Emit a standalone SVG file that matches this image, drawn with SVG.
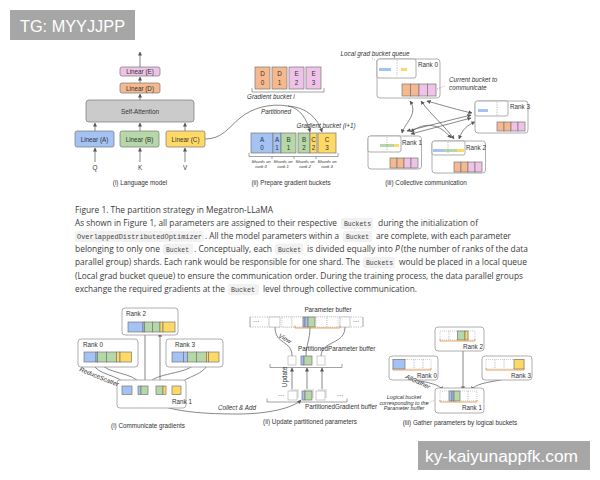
<svg xmlns="http://www.w3.org/2000/svg" width="600" height="480" viewBox="0 0 600 480">
<style>
.t{font-family:"Liberation Sans",Arial,sans-serif;fill:#333;font-size:6.3px}
.c{text-anchor:middle}
.i{font-style:italic}
.p{font-family:"Open Sans","Noto Sans",sans-serif;fill:#3a3a3a;font-size:8.3px}
.m{font-family:"Liberation Mono","DejaVu Sans Mono",monospace;fill:#444;font-size:6.6px}
.cb{fill:#f1f1f1;stroke:none}
.bx{stroke:#777;stroke-width:0.7}
.fr{fill:#fff;stroke:#999;stroke-width:0.8}
.q{fill:#fff;stroke:#aaa;stroke-width:0.6}
.bl{fill:#a4c2f4}.gr{fill:#b6d7a8}.ye{fill:#ffd966}.or{fill:#f6b88e}.pk{fill:#efc3e8}.gy{fill:#cbcbcb}.wh{fill:#fff}
.ln{fill:none;stroke:#555;stroke-width:0.7}
.ar{fill:none;stroke:#555;stroke-width:0.7;marker-end:url(#ah)}
.ar2{fill:none;stroke:#555;stroke-width:0.7;marker-end:url(#ah);marker-start:url(#ah)}
.dl{fill:none;stroke:#777;stroke-width:0.5;stroke-dasharray:1.2 1.2}
.br{fill:none;stroke:#666;stroke-width:0.6}
.ob{fill:none;stroke:#e69138;stroke-width:0.8}
.wm{fill:#a6a6a6}
.wt{font-family:"Liberation Sans",Arial,sans-serif;fill:#fff;font-size:16px}
</style>
<defs>
<marker id="ah" viewBox="0 0 10 10" refX="9" refY="5" markerWidth="4" markerHeight="4" markerUnits="userSpaceOnUse" orient="auto-start-reverse"><path d="M0,0 L10,5 L0,10 z" fill="#555"/></marker>
</defs>
<rect width="600" height="480" fill="#fff"/>

<!-- watermarks -->
<g id="wm-top"><rect class="wm" x="10" y="10" width="125" height="30"/><text class="wt" x="20" y="31.5" textLength="105" lengthAdjust="spacingAndGlyphs">TG: MYYJJPP</text></g>
<g id="wm-bottom"><rect class="wm" x="418" y="441" width="172" height="29"/><text class="wt" x="425" y="461.5" textLength="153" lengthAdjust="spacingAndGlyphs">ky-kaiyunappfk.com</text></g>

<!-- connectors -->
<g id="connectors">
 <!-- panel i top -->
 <path class="ar" d="M95,162 V148"/>
 <path class="ar" d="M140,162 V148"/>
 <path class="ar" d="M185,162 V148"/>
 <path class="ar" d="M95,131 V123"/>
 <path class="ar" d="M140,131 V123"/>
 <path class="ar" d="M185,131 V123"/>
 <path class="ar" d="M140,100 V94"/>
 <path class="ar" d="M140,83 V77"/>
 <path class="ar" d="M140,67 V52"/>
 <path class="ln" d="M205,139 C222,139 228,128 240,118 C252,108 270,103 288,106"/>
 <path class="ar" d="M288,106 C300,108 307,119 310,132"/>
 <path class="ar" d="M288,106 C306,107 318,118 322,132"/>
 <!-- panel iii top -->
 <path class="ar2" d="M410,101 C419,114 404,124 402,133"/>
 <path class="ar2" d="M421,101 C432,116 445,126 454,139"/>
 <path class="ar2" d="M427,101 C445,106 458,110 472,113"/>
 <path class="ar2" d="M407,131 L471,115"/>
 <path class="ar2" d="M411,134 L471,118"/>
 <path class="ar2" d="M411,132 C425,121 440,124 451,138"/>
 <path class="ar2" d="M459,139 C462,130 467,125 475,122"/>
 <!-- bottom panel i -->
 <path class="ar" d="M100,362 C106,375 134,371 141,385"/>
 <path class="ar" d="M92,362 C96,376 120,374 127,386"/>
 <path class="ar" d="M196,362 C190,375 152,372 148,385"/>
 <path class="ar" d="M208,362 C206,375 186,376 178,385"/>
 <path class="ar" d="M145,332 V385"/>
 <path class="ar" d="M160,385 V333"/>
 <path class="ar" d="M143,395 C158,411 198,414 238,414 C268,414 293,408 301,400"/>
 <!-- bottom panel ii -->
 <path class="ln" d="M275,327 C275,345 292,340 292,356"/>
 <path class="ln" d="M310,327 C310,340 306,345 306,356"/>
 <path class="ln" d="M345,327 C345,345 322,340 321,356"/>
 <path class="ar" d="M292,390 V368"/>
 <path class="ar" d="M307,390 V368"/>
 <path class="ar" d="M322,390 V368"/>
 <!-- bottom panel iii -->
 <path class="ar" d="M399,369 C400,384 434,378 443,390"/>
 <path class="ar" d="M463,340 V390"/>
 <path class="ar" d="M518,369 C516,384 480,378 471,390"/>
 <path class="dl" d="M426,404 L440,398"/>
</g>

<!-- panel (i) language model -->
<g id="lin-e"><rect class="bx pk" x="120" y="67" width="40" height="9" rx="2"/><text class="t c" x="140" y="74">Linear (E)</text></g>
<g id="lin-d"><rect class="bx or" x="120" y="83" width="40" height="10" rx="2"/><text class="t c" x="140" y="90.5">Linear (D)</text></g>
<g id="self-attn"><rect class="bx gy" x="86" y="100" width="108" height="22" rx="3"/><text class="t c" x="140" y="113.5">Self-Attention</text></g>
<g id="lin-a"><rect class="bx bl" x="75" y="131" width="39" height="16" rx="2"/><text class="t c" x="94.5" y="141.5">Linear (A)</text></g>
<g id="lin-b"><rect class="bx gr" x="120" y="131" width="39" height="16" rx="2"/><text class="t c" x="139.5" y="141.5">Linear (B)</text></g>
<g id="lin-c"><rect class="bx ye" x="166" y="131" width="39" height="16" rx="2"/><text class="t c" x="185.5" y="141.5">Linear (C)</text></g>
<g id="qkv"><text class="t c" x="95" y="170">Q</text><text class="t c" x="140" y="170">K</text><text class="t c" x="185" y="170">V</text></g>
<text class="t c" x="140" y="185">(i) Language model</text>

<!-- panel (ii) prepare buckets -->
<g id="bucket-i">
 <rect class="bx or" x="255" y="67" width="15" height="22"/><text class="t c" x="262.5" y="76">D</text><text class="t c" x="262.5" y="85">0</text>
 <rect class="bx or" x="272" y="67" width="15" height="22"/><text class="t c" x="279.5" y="76">D</text><text class="t c" x="279.5" y="85">1</text>
 <rect class="bx pk" x="289" y="67" width="15" height="22"/><text class="t c" x="296.5" y="76">E</text><text class="t c" x="296.5" y="85">2</text>
 <rect class="bx pk" x="306" y="67" width="15" height="22"/><text class="t c" x="313.5" y="76">E</text><text class="t c" x="313.5" y="85">3</text>
 <path class="br" d="M252,88 V92 H324 V88"/>
 <text class="t i" x="247" y="98.5">Gradient bucket i</text>
</g>
<text class="t i c" x="276" y="114">Partitioned</text>
<g id="bucket-i1">
 <text class="t i c" x="326" y="128">Gradient bucket (i+1)</text>
 <rect class="bx bl" x="251" y="133" width="22" height="20"/><text class="t c" x="262" y="142">A</text><text class="t c" x="262" y="150">0</text>
 <rect class="bx bl" x="273" y="133" width="8" height="20"/><text class="t c" x="277" y="142">A</text><text class="t c" x="277" y="150">1</text>
 <rect class="bx gr" x="281" y="133" width="15" height="20"/><text class="t c" x="288.5" y="142">B</text><text class="t c" x="288.5" y="150">1</text>
 <rect class="bx gr" x="298" y="133" width="12" height="20"/><text class="t c" x="304" y="142">B</text><text class="t c" x="304" y="150">2</text>
 <rect class="bx ye" x="310" y="133" width="7" height="20"/><text class="t c" x="313.5" y="142">C</text><text class="t c" x="313.5" y="150">2</text>
 <rect class="bx ye" x="318" y="133" width="18" height="20"/><text class="t c" x="327" y="142">C</text><text class="t c" x="327" y="150">3</text>
 <path class="br" d="M249,153 V156.5 H338 V153 M272,156.5 V159 M294,156.5 V159 M316,156.5 V159"/>
 <g class="t i c" style="font-size:4.2px">
  <text x="261" y="162.5">Shards on</text><text x="261" y="167.5">rank 0</text>
  <text x="283" y="162.5">Shards on</text><text x="283" y="167.5">rank 1</text>
  <text x="305" y="162.5">Shards on</text><text x="305" y="167.5">rank 2</text>
  <text x="327" y="162.5">Shards on</text><text x="327" y="167.5">rank 3</text>
 </g>
</g>
<text class="t c" x="291" y="185">(ii) Prepare gradient buckets</text>

<!-- panel (iii) collective communication -->
<text class="t i c" x="375" y="56">Local grad bucket queue</text>
<path class="dl" d="M372,58 L378,62"/>
<g id="rank0-top">
 <rect class="fr" x="377" y="59" width="63" height="39" rx="3"/>
 <rect class="fr" x="377" y="59" width="39" height="19" rx="2"/>
 <rect class="bl" x="379" y="68" width="12" height="3"/><rect class="ye" x="401" y="68" width="6" height="3"/>
 <path class="dl" d="M397,60 V76"/>
 <text class="t" x="418" y="67">Rank 0</text>
 <rect class="bx or" x="402" y="84" width="8.5" height="12"/><rect class="bx or" x="410.5" y="84" width="8.5" height="12"/><rect class="bx pk" x="419" y="84" width="8.5" height="12"/><rect class="bx pk" x="427.5" y="84" width="8.5" height="12"/>
</g>
<text class="t i" x="449" y="82">Current bucket to</text>
<text class="t i" x="449" y="90">communicate</text>
<path class="dl" d="M437,89 L445,86"/>
<g id="rank3-top">
 <rect class="fr" x="475" y="101" width="53" height="32" rx="3"/>
 <rect class="fr" x="475" y="101" width="33" height="15" rx="2"/>
 <rect class="bl" x="478" y="109" width="10" height="3"/>
 <path class="dl" d="M497,102 V115"/>
 <text class="t" x="510" y="109">Rank 3</text>
 <rect class="bx or" x="497" y="122" width="7" height="9"/><rect class="bx or" x="504" y="122" width="7" height="9"/><rect class="bx pk" x="511" y="122" width="7" height="9"/><rect class="bx pk" x="518" y="122" width="7" height="9"/>
</g>
<g id="rank1-top">
 <rect class="fr" x="368" y="136" width="53.5" height="33" rx="3"/>
 <rect class="fr" x="368" y="136" width="33" height="16" rx="2"/>
 <rect class="gr" x="380" y="144" width="14" height="3"/><rect class="ye" x="394" y="144" width="5" height="3"/>
 <path class="dl" d="M387,137 V151"/>
 <text class="t" x="402" y="144.5">Rank 1</text>
 <rect class="bx or" x="390" y="158" width="7" height="10"/><rect class="bx or" x="397" y="158" width="7" height="10"/><rect class="bx pk" x="404" y="158" width="7" height="10"/><rect class="bx pk" x="411" y="158" width="7" height="10"/>
</g>
<g id="rank2-top">
 <rect class="fr" x="432" y="141" width="53.5" height="32" rx="3"/>
 <rect class="fr" x="432" y="141" width="33" height="14" rx="2"/>
 <rect class="bl" x="433" y="149" width="11" height="3"/><rect class="gr" x="444" y="149" width="13" height="3"/><rect class="ye" x="457" y="149" width="7" height="3"/>
 <path class="dl" d="M448,142 V154"/>
 <text class="t" x="466" y="150">Rank 2</text>
 <rect class="bx or" x="454" y="162" width="7" height="10"/><rect class="bx or" x="461" y="162" width="7" height="10"/><rect class="bx pk" x="468" y="162" width="7" height="10"/><rect class="bx pk" x="475" y="162" width="7" height="10"/>
</g>
<text class="t c" x="426" y="185">(iii) Collective communication</text>

<!-- paragraph -->
<g id="paragraph">
 <text class="p" x="75" y="212.5" textLength="198" lengthAdjust="spacingAndGlyphs">Figure 1. The partition strategy in Megatron-LLaMA</text>

 <text class="p" x="75" y="226" textLength="262" lengthAdjust="spacingAndGlyphs">As shown in Figure 1, all parameters are assigned to their respective</text>
 <rect class="cb" x="341" y="218" width="32" height="11" rx="2"/><text class="m" x="344" y="226" textLength="27" lengthAdjust="spacingAndGlyphs">Buckets</text>
 <text class="p" x="378" y="226" textLength="100" lengthAdjust="spacingAndGlyphs">during the initialization of</text>

 <rect class="cb" x="75" y="231" width="129" height="11" rx="2"/><text class="m" x="77" y="239" textLength="125" lengthAdjust="spacingAndGlyphs">OverlappedDistributedOptimizer</text>
 <text class="p" x="205" y="239" textLength="134" lengthAdjust="spacingAndGlyphs">. All the model parameters within a</text>
 <rect class="cb" x="343" y="231" width="29" height="11" rx="2"/><text class="m" x="346" y="239" textLength="23" lengthAdjust="spacingAndGlyphs">Bucket</text>
 <text class="p" x="376" y="239" textLength="135" lengthAdjust="spacingAndGlyphs">are complete, with each parameter</text>

 <text class="p" x="75" y="251.5" textLength="85" lengthAdjust="spacingAndGlyphs">belonging to only one</text>
 <rect class="cb" x="163" y="243.5" width="30" height="11" rx="2"/><text class="m" x="166" y="251.5" textLength="23" lengthAdjust="spacingAndGlyphs">Bucket</text>
 <text class="p" x="194" y="251.5" textLength="78" lengthAdjust="spacingAndGlyphs">. Conceptually, each</text>
 <rect class="cb" x="275" y="243.5" width="28" height="11" rx="2"/><text class="m" x="278" y="251.5" textLength="23" lengthAdjust="spacingAndGlyphs">Bucket</text>
 <text class="p" x="307" y="251.5" textLength="86" lengthAdjust="spacingAndGlyphs">is divided equally into</text>
 <text class="p" x="395" y="251.5" font-style="italic">P</text>
 <text class="p" x="401" y="251.5" textLength="127" lengthAdjust="spacingAndGlyphs">(the number of ranks of the data</text>

 <text class="p" x="75" y="265" textLength="285" lengthAdjust="spacingAndGlyphs">parallel group) shards. Each rank would be responsible for one shard. The</text>
 <rect class="cb" x="363" y="257" width="32" height="11" rx="2"/><text class="m" x="366" y="265" textLength="27" lengthAdjust="spacingAndGlyphs">Buckets</text>
 <text class="p" x="399" y="265" textLength="128" lengthAdjust="spacingAndGlyphs">would be placed in a local queue</text>

 <text class="p" x="75" y="278.5" textLength="448" lengthAdjust="spacingAndGlyphs">(Local grad bucket queue) to ensure the communication order. During the training process, the data parallel groups</text>

 <text class="p" x="75" y="292" textLength="150" lengthAdjust="spacingAndGlyphs">exchange the required gradients at the</text>
 <rect class="cb" x="228" y="284" width="31" height="11" rx="2"/><text class="m" x="231" y="292" textLength="24" lengthAdjust="spacingAndGlyphs">Bucket</text>
 <text class="p" x="263" y="292" textLength="154" lengthAdjust="spacingAndGlyphs">level through collective communication.</text>
</g>

<!-- bottom panel (i) communicate gradients -->
<g id="b-rank2">
 <rect class="fr" x="122" y="308" width="56" height="27" rx="3"/>
 <text class="t" x="126" y="316">Rank 2</text>
 <rect class="bx bl" x="128" y="322" width="15" height="10"/><rect class="bx bl" x="143" y="322" width="1.5" height="10"/><rect class="bx gr" x="144.5" y="322" width="8" height="10"/><rect class="bx gr" x="152.5" y="322" width="7.5" height="10"/><rect class="bx ye" x="160" y="322" width="3" height="10"/><rect class="bx ye" x="163" y="322" width="12" height="10"/>
</g>
<g id="b-rank0">
 <rect class="fr" x="78" y="339" width="60" height="28" rx="3"/>
 <text class="t" x="83" y="347">Rank 0</text>
 <rect class="bx bl" x="84" y="352" width="12" height="10"/><rect class="bx bl" x="96" y="352" width="1.5" height="10"/><rect class="bx gr" x="97.5" y="352" width="9" height="10"/><rect class="bx gr" x="106.5" y="352" width="10" height="10"/><rect class="bx ye" x="116.5" y="352" width="3.5" height="10"/><rect class="bx ye" x="120" y="352" width="11.5" height="10"/>
</g>
<g id="b-rank3">
 <rect class="fr" x="166" y="339" width="57" height="28" rx="3"/>
 <text class="t" x="175" y="347">Rank 3</text>
 <rect class="bx bl" x="172" y="352" width="11.5" height="10"/><rect class="bx bl" x="183.5" y="352" width="4" height="10"/><rect class="bx gr" x="187.5" y="352" width="9" height="10"/><rect class="bx gr" x="196.5" y="352" width="10" height="10"/><rect class="bx ye" x="206.5" y="352" width="2" height="10"/><rect class="bx ye" x="208.5" y="352" width="10.5" height="10"/>
</g>
<g id="b-rank1">
 <rect class="fr" x="117" y="380" width="69" height="28" rx="3"/>
 <text class="t" x="172" y="404">Rank 1</text>
 <rect class="bx bl" x="122" y="386" width="10" height="8.5"/>
 <rect class="bx bl" x="138" y="386" width="3" height="8.5"/><rect class="bx gr" x="141" y="386" width="7" height="8.5"/>
 <rect class="bx gr" x="156" y="386" width="7" height="8.5"/><rect class="bx ye" x="163" y="386" width="3" height="8.5"/>
 <rect class="bx ye" x="172" y="386" width="9" height="8.5"/>
</g>
<text class="t i" x="79" y="371" transform="rotate(22 79 371)">ReduceScatter</text>
<text class="t i" x="218" y="410">Collect &amp; Add</text>
<text class="t c" x="148" y="428">(i) Communicate gradients</text>

<!-- bottom panel (ii) update partitioned parameters -->
<g id="param-buffer">
 <text class="t c" x="328" y="312">Parameter buffer</text>
 <path class="br" d="M250,317 V327 M363,317 V327"/>
 <path class="dl" d="M250,317 H363 M250,327 H363"/>
 <text class="t" x="253" y="324">···</text><text class="t" x="353" y="324">···</text>
 <rect class="q" x="269" y="317" width="11" height="10"/>
 <rect class="q" x="282" y="317" width="10" height="10" style="stroke-dasharray:1 1"/>
 <rect class="q" x="292" y="317" width="11" height="10" style="stroke-dasharray:1 1"/>
 <rect class="bx bl" x="303" y="317" width="2" height="10"/><rect class="bx bl" x="305" y="317" width="3" height="10"/><rect class="bx gr" x="308" y="317" width="7" height="10"/>
 <rect class="q" x="316" y="317" width="11" height="10" style="stroke-dasharray:1 1"/>
 <rect class="q" x="327" y="317" width="11" height="10" style="stroke-dasharray:1 1"/>
 <rect class="q" x="340" y="317" width="10" height="10"/>
 <path class="ob" d="M295,325.5 V328 H340 V325.5"/>
</g>
<text class="t i" x="278" y="337" transform="rotate(30 278 337)">View</text>
<g id="pparam-buffer">
 <text class="t" x="298" y="351">PartitionedParameter buffer</text>
 <rect class="q" x="288" y="356" width="8" height="9"/>
 <rect class="bx bl" x="301" y="356" width="3" height="9"/><rect class="bx gr" x="304" y="356" width="8" height="9"/>
 <rect class="q" x="317" y="356" width="8" height="9"/>
 <path class="br" d="M270,364 V367.5 H342 V364"/>
</g>
<text class="t" x="287" y="377" transform="rotate(-90 287 377)" text-anchor="middle">Update</text>
<g id="pgrad-buffer">
 <text class="t" x="278" y="398">···</text><text class="t" x="337" y="398">···</text>
 <rect x="290" y="389" width="9" height="9" fill="#e4e4e4"/><rect class="q" x="288" y="391" width="9" height="9"/>
 <rect x="304" y="389" width="10" height="9" fill="#e4e4e4"/><rect class="bx bl" x="302" y="391" width="3" height="9"/><rect class="bx gr" x="305" y="391" width="7" height="9"/>
 <rect x="318" y="389" width="9" height="9" fill="#e4e4e4"/><rect class="q" x="316" y="391" width="9" height="9"/>
 <path class="br" d="M267,398.5 V402 H347 V398.5"/>
 <text class="t" x="305" y="409">PartitionedGradient buffer</text>
</g>
<text class="t c" x="310" y="424">(ii) Update partitioned parameters</text>

<!-- bottom panel (iii) gather parameters -->
<g id="g-rank2">
 <rect class="fr" x="435" y="327" width="49" height="24" rx="3"/>
 <rect class="q" x="440" y="331" width="35" height="9" style="stroke-dasharray:1 1"/>
 <path class="dl" d="M449,331 V340 M458,331 V340 M468,331 V340"/>
 <rect class="bx gr" x="457.5" y="331" width="7.5" height="9"/><rect class="bx ye" x="465" y="331" width="3" height="9"/>
 <path class="ob" d="M440,339 V341 H475 V339"/>
 <text class="t" x="463" y="349">Rank 2</text>
</g>
<g id="g-rank0">
 <rect class="fr" x="389" y="356" width="49" height="24" rx="3"/>
 <rect class="q" x="393" y="359.5" width="38" height="9.5" style="stroke-dasharray:1 1"/>
 <path class="dl" d="M414,359.5 V369 M423,359.5 V369"/>
 <rect class="bx bl" x="393" y="359.5" width="12" height="9.5"/>
 <path class="ob" d="M393,368 V370 H431 V368"/>
 <text class="t" x="417" y="378">Rank 0</text>
</g>
<g id="g-rank3">
 <rect class="fr" x="482" y="356" width="50" height="24" rx="3"/>
 <rect class="q" x="486" y="359.5" width="38" height="9.5" style="stroke-dasharray:1 1"/>
 <path class="dl" d="M495,359.5 V369 M504,359.5 V369"/>
 <rect class="bx ye" x="514" y="359.5" width="10" height="9.5"/>
 <path class="ob" d="M486,368 V370 H524 V368"/>
 <text class="t" x="511" y="378">Rank 3</text>
</g>
<g id="g-rank1">
 <rect class="fr" x="435" y="388" width="49" height="25" rx="3"/>
 <rect class="q" x="440" y="391" width="37" height="10" style="stroke-dasharray:1 1"/>
 <path class="dl" d="M468,391 V401"/>
 <rect class="bx bl" x="449" y="391" width="3" height="10"/><rect class="bx bl" x="452" y="391" width="2" height="10"/><rect class="bx gr" x="454" y="391" width="6" height="10"/>
 <path class="ob" d="M440,400 V402 H477 V400"/>
 <text class="t" x="462" y="410">Rank 1</text>
</g>
<text class="t i" x="405" y="378" transform="rotate(25 405 378)">AllGather</text>
<g class="t i c" style="font-size:5.4px">
 <text x="404" y="399">Logical bucket</text>
 <text x="404" y="404.5">corresponding to the</text>
 <text x="404" y="410">Parameter buffer</text>
</g>
<text class="t c" x="460" y="425">(iii) Gather parameters by logical buckets</text>
</svg>
